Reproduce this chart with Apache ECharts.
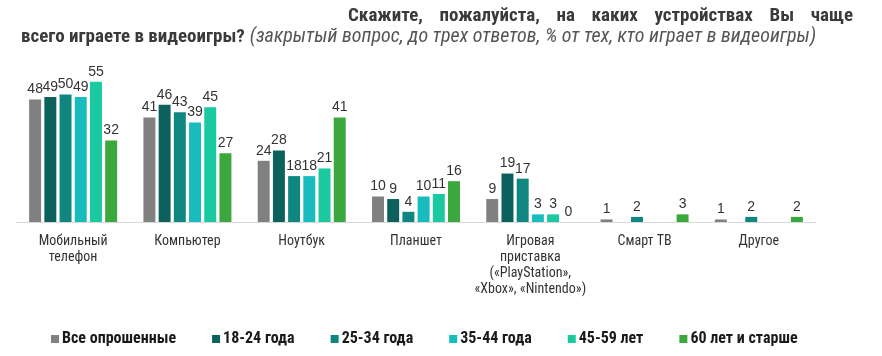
<!DOCTYPE html>
<html><head><meta charset="utf-8">
<script src="https://cdn.jsdelivr.net/npm/echarts@6/dist/echarts.min.js"></script>
<style>html,body{margin:0;padding:0;background:#fff}#c{width:882px;height:356px}</style>
</head><body><div id="c"></div>
<script>
var categories = ['Мобильный\nтелефон', 'Компьютер', 'Ноутбук', 'Планшет', 'Игровая\nприставка\n(«PlayStation»,\n«Xbox», «Nintendo»)', 'Смарт ТВ', 'Другое'];
var seriesNames = ['Все опрошенные', '18-24 года', '25-34 года', '35-44 года', '45-59 лет', '60 лет и старше'];
var allRespondents = [48, 41, 24, 10, 9, 1, 1];
var age18_24 = [49, 46, 28, 9, 19, null, null];
var age25_34 = [50, 43, 18, 4, 17, 2, 2];
var age35_44 = [49, 39, 18, 10, 3, null, null];
var age45_59 = [55, 45, 21, 11, 3, null, null];
var age60plus = [32, 27, 41, 16, 0, 3, 2];
var colors = ['#808080', '#0c615d', '#108680', '#19bcbc', '#1bc9a0', '#3aa83d'];

var seriesData = [allRespondents, age18_24, age25_34, age35_44, age45_59, age60plus];
var FONT = '"Liberation Sans Narrow", "Roboto Condensed", "Liberation Sans", sans-serif';
var chart = echarts.init(document.getElementById('c'));
chart.setOption({
  animation: false,
  color: colors,
  title: [{
    text: ['Скажите,', 'пожалуйста,', 'на', 'каких', 'устройствах', 'Вы', 'чаще'].join('\u2003'),
    right: 24, top: 2,
    textStyle: {fontFamily: FONT, fontWeight: 'bold', fontSize: 19, color: '#3a3a3a'}
  }, {
    text: '{b|всего играете в видеоигры?} {i|(закрытый вопрос, до трех ответов, % от тех, кто играет в видеоигры)}',
    left: 16, top: 22,
    textStyle: {
      fontWeight: 'normal',
      rich: {
        b: {fontFamily: FONT, fontWeight: 'bold', fontSize: 19, color: '#3a3a3a'},
        i: {fontFamily: FONT, fontStyle: 'italic', fontWeight: 'normal', fontSize: 20, color: '#555'}
      }
    }
  }],
  legend: {
    bottom: 4, left: 46,
    itemWidth: 8, itemHeight: 8, itemGap: 36,
    icon: 'rect',
    textStyle: {fontFamily: FONT, fontWeight: 'bold', fontSize: 16, color: '#1a1a1a', padding: [0, 0, 0, -2]},
    data: seriesNames
  },
  grid: {left: 16, right: 66, top: 69, bottom: 134},
  xAxis: {
    type: 'category', data: categories,
    axisLine: {lineStyle: {color: '#d9d9d9'}},
    axisTick: {show: false},
    axisLabel: {fontFamily: FONT, fontSize: 14, color: '#333', lineHeight: 16, margin: 11, interval: 0}
  },
  yAxis: {type: 'value', min: 0, max: 60, show: false, splitLine: {show: false}},
  series: seriesData.map(function (d, i) {
    return {
      name: seriesNames[i], type: 'bar', data: d,
      barGap: '27%', barCategoryGap: '23%',
      label: {show: true, position: 'top', distance: 3, fontFamily: '"Liberation Sans", sans-serif', fontSize: 14, color: '#333'}
    };
  })
});
</script></body></html>
